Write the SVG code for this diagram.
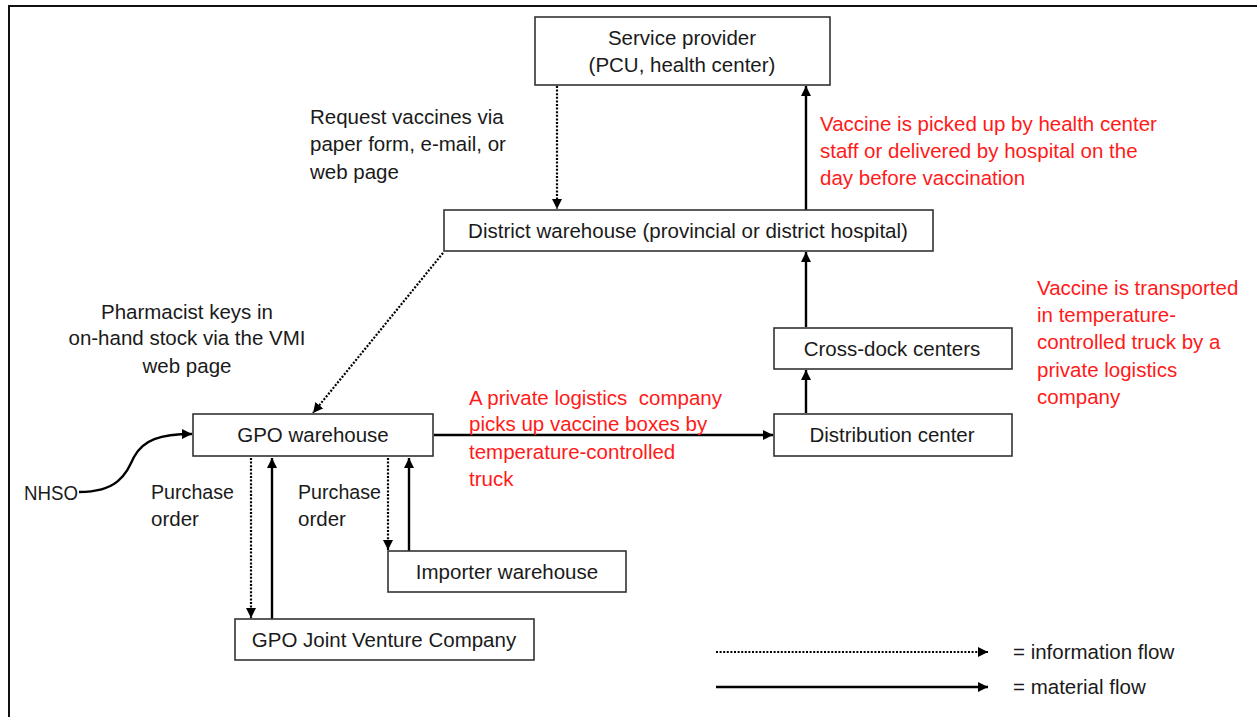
<svg xmlns="http://www.w3.org/2000/svg" width="1257" height="717" viewBox="0 0 1257 717">
  <style>
    .box { fill: #ffffff; stroke: #333333; stroke-width: 1.6; }
    .t { font-family: "Liberation Sans", Arial, sans-serif; font-size: 20.5px; fill: #1a1a1a; }
    .c { text-anchor: middle; }
    .red { fill: #ff1a1a; }
    .solid { fill: none; stroke: #000; stroke-width: 2.4; }
    .dot { fill: none; stroke: #000; stroke-width: 2.2; stroke-dasharray: 2 1.6; }
  </style>
  <defs>
    <marker id="ah" viewBox="0 0 10 10" refX="10" refY="5" markerWidth="10" markerHeight="10" markerUnits="userSpaceOnUse" orient="auto">
      <path d="M0,0 L10,5 L0,10 Z" fill="#000"/>
    </marker>
  </defs>

  <rect x="0" y="0" width="1257" height="717" fill="#ffffff"/>
  <!-- frame -->
  <path d="M9,717 L9,6 L1257,6" fill="none" stroke="#111" stroke-width="2"/>

  <g id="connectors">
    <line class="dot" x1="557" y1="86" x2="557" y2="209" marker-end="url(#ah)"/>
    <line class="solid" x1="806" y1="210" x2="806" y2="86" marker-end="url(#ah)"/>
    <line class="solid" x1="806" y1="327" x2="806" y2="252" marker-end="url(#ah)"/>
    <line class="solid" x1="806" y1="413" x2="806" y2="370" marker-end="url(#ah)"/>
    <line class="dot" x1="443" y1="253" x2="313" y2="413" marker-end="url(#ah)"/>
    <line class="solid" x1="434" y1="435" x2="773" y2="435" marker-end="url(#ah)"/>
    <path class="solid" d="M79,492 C118,492 126,474 134,457 C143,440 160,434 192,434" marker-end="url(#ah)"/>
    <line class="dot" x1="251" y1="458" x2="251" y2="618" marker-end="url(#ah)"/>
    <line class="solid" x1="272" y1="619" x2="272" y2="458" marker-end="url(#ah)"/>
    <line class="dot" x1="388" y1="458" x2="388" y2="550" marker-end="url(#ah)"/>
    <line class="solid" x1="409" y1="551" x2="409" y2="458" marker-end="url(#ah)"/>
    <!-- legend -->
    <line class="dot" x1="716" y1="652" x2="988" y2="652" marker-end="url(#ah)"/>
    <line class="solid" x1="716" y1="687" x2="988" y2="687" marker-end="url(#ah)"/>
  </g>

  <g id="service-provider">
    <rect class="box" x="535" y="17" width="295" height="68"/>
    <text class="t c" x="682" y="45">Service provider</text>
    <text class="t c" x="682" y="72">(PCU, health center)</text>
  </g>
  <g id="district-warehouse">
    <rect class="box" x="444" y="210" width="489" height="41"/>
    <text class="t c" x="688" y="238">District warehouse (provincial or district hospital)</text>
  </g>
  <g id="cross-dock">
    <rect class="box" x="774" y="328" width="238" height="41"/>
    <text class="t c" x="892" y="356">Cross-dock centers</text>
  </g>
  <g id="distribution-center">
    <rect class="box" x="774" y="414" width="238" height="42"/>
    <text class="t c" x="892" y="442">Distribution center</text>
  </g>
  <g id="gpo-warehouse">
    <rect class="box" x="193" y="414" width="240" height="42"/>
    <text class="t c" x="313" y="442">GPO warehouse</text>
  </g>
  <g id="importer-warehouse">
    <rect class="box" x="388" y="551" width="238" height="41"/>
    <text class="t c" x="507" y="579">Importer warehouse</text>
  </g>
  <g id="gpo-jv">
    <rect class="box" x="235" y="619" width="299" height="41"/>
    <text class="t c" x="384" y="647">GPO Joint Venture Company</text>
  </g>
  <g id="nhso">
    <text class="t" x="24" y="500" textLength="54" lengthAdjust="spacingAndGlyphs">NHSO</text>
  </g>

  <g id="labels">
    <text class="t" x="310" y="124">Request vaccines via</text>
    <text class="t" x="310" y="151">paper form, e-mail, or</text>
    <text class="t" x="310" y="179">web page</text>

    <text class="t red" x="820" y="131">Vaccine is picked up by health center</text>
    <text class="t red" x="820" y="158">staff or delivered by hospital on the</text>
    <text class="t red" x="820" y="185">day before vaccination</text>

    <text class="t red" x="1037" y="295">Vaccine is transported</text>
    <text class="t red" x="1037" y="322">in temperature-</text>
    <text class="t red" x="1037" y="349">controlled truck by a</text>
    <text class="t red" x="1037" y="377">private logistics</text>
    <text class="t red" x="1037" y="404">company</text>

    <text class="t c" x="187" y="319">Pharmacist keys in</text>
    <text class="t c" x="187" y="345">on-hand stock via the VMI</text>
    <text class="t c" x="187" y="373">web page</text>

    <text class="t red" x="469" y="405" xml:space="preserve">A private logistics  company</text>
    <text class="t red" x="469" y="431">picks up vaccine boxes by</text>
    <text class="t red" x="469" y="459">temperature-controlled</text>
    <text class="t red" x="469" y="486">truck</text>

    <text class="t" x="151" y="499" textLength="83" lengthAdjust="spacingAndGlyphs">Purchase</text>
    <text class="t" x="151" y="526">order</text>
    <text class="t" x="298" y="499" textLength="83" lengthAdjust="spacingAndGlyphs">Purchase</text>
    <text class="t" x="298" y="526">order</text>

    <text class="t" x="1013" y="659">= information flow</text>
    <text class="t" x="1013" y="694">= material flow</text>
  </g>
</svg>
